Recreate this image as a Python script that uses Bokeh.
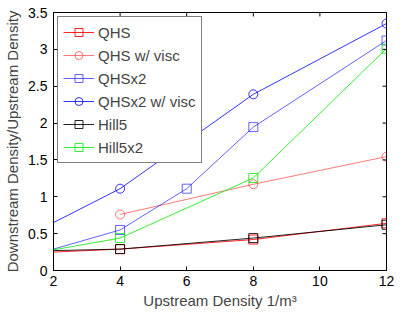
import math
from bokeh.plotting import figure
from bokeh.models import Range1d, Title, FixedTicker, Legend
from bokeh.embed import file_html
from bokeh.resources import INLINE

# x in units of 1e13 1/m^3
qhs_x = [2, 4, 8, 12]
qhs_y = [0.25, 0.29, 0.42, 0.64]
qhs_visc_x = [4, 8, 12]
qhs_visc_y = [0.76, 1.17, 1.545]
qhsx2_x = [2, 4, 6, 8, 12]
qhsx2_y = [0.29, 0.55, 1.11, 1.945, 3.12]
qhsx2_visc_x = [2, 4, 8, 12]
qhsx2_visc_y = [0.65, 1.11, 2.39, 3.35]
hill5_x = [2, 4, 8, 12]
hill5_y = [0.27, 0.29, 0.44, 0.62]
hill5x2_x = [2, 4, 8, 12]
hill5x2_y = [0.28, 0.44, 1.255, 3.01]
# first point of each series lies at the axis edge and has no visible marker
marker_start = {"QHS": 1, "QHS w/ visc": 0, "QHSx2": 1, "QHSx2 w/ visc": 1, "Hill5": 1, "Hill5x2": 1}

x_ticks = [2, 4, 6, 8, 10, 12]
y_ticks = [0, 0.5, 1, 1.5, 2, 2.5, 3, 3.5]
x_lim = (2, 12)
y_lim = (0, 3.5)
x_scale_text = "x 10\u00b9\u00b3"

FONT = "Liberation Sans"

p = figure(width=395, height=311, output_backend="svg", toolbar_location=None,
           x_range=Range1d(*x_lim), y_range=Range1d(*y_lim),
           min_border_left=53, min_border_right=9, min_border_top=12, min_border_bottom=40)
p.xgrid.visible = False
p.ygrid.visible = False
p.outline_line_color = "black"

series = [
    ("QHS", qhs_x, qhs_y, "#ff0000", "square", 0.85),
    ("QHS w/ visc", qhs_visc_x, qhs_visc_y, "#ff2020", "circle", 0.6),
    ("QHSx2", qhsx2_x, qhsx2_y, "#1010ff", "square", 0.65),
    ("QHSx2 w/ visc", qhsx2_visc_x, qhsx2_visc_y, "#0000ff", "circle", 0.8),
    ("Hill5", hill5_x, hill5_y, "#000000", "square", 0.85),
    ("Hill5x2", hill5x2_x, hill5x2_y, "#00ee00", "square", 0.8),
]

items = []
for name, xs, ys, col, mk, alpha in series:
    r1 = p.line(xs, ys, line_color=col, line_width=1, line_alpha=alpha)
    s = marker_start[name]
    r2 = p.scatter(xs[s:], ys[s:], marker=mk, size=9, fill_color=None,
                   line_color=col, line_width=1, line_alpha=alpha)
    items.append((name, [r1, r2]))

# inward ticks on the top and right edges of the box
p.scatter(x_ticks, [y_lim[1]] * len(x_ticks), marker="dash", angle=math.pi / 2,
          size=8, line_color="black", line_width=1)
p.scatter([x_lim[1]] * len(y_ticks), y_ticks, marker="dash",
          size=8, line_color="black", line_width=1)

legend = Legend(items=items, location="top_left")
legend.label_text_font = FONT
legend.label_text_font_size = "15px"
legend.label_height = 20
legend.glyph_height = 20
legend.glyph_width = 31
legend.spacing = 3
legend.padding = 5
legend.margin = 4
legend.label_standoff = 4
legend.border_line_color = "black"
legend.border_line_width = 1
legend.background_fill_alpha = 1
p.add_layout(legend, "center")

for ax in [p.xaxis[0], p.yaxis[0]]:
    ax.major_tick_in = 4
    ax.major_tick_out = 0
    ax.minor_tick_line_color = None
    ax.major_label_text_font = FONT
    ax.major_label_text_font_size = "14px"
    ax.major_label_text_color = "black"
    ax.axis_label_text_font = FONT
    ax.axis_label_text_font_size = "15px"
    ax.axis_label_text_font_style = "normal"
    ax.axis_line_color = "black"

p.xaxis[0].ticker = FixedTicker(ticks=x_ticks)
p.yaxis[0].ticker = FixedTicker(ticks=y_ticks)
p.xaxis[0].axis_label = "Upstream Density 1/m\u00b3"
p.yaxis[0].axis_label = "Downstream Density/Upstream Density"
p.xaxis[0].major_label_standoff = 5
p.yaxis[0].major_label_standoff = 6
p.xaxis[0].axis_label_standoff = 3
p.yaxis[0].axis_label_standoff = 4

scale_title = Title(text=x_scale_text, align="right", text_font=FONT,
                    text_font_size="15px", text_font_style="normal",
                    standoff=-26, offset=0)
p.add_layout(scale_title, "below")

open("out.html", "w").write(file_html(p, INLINE))
